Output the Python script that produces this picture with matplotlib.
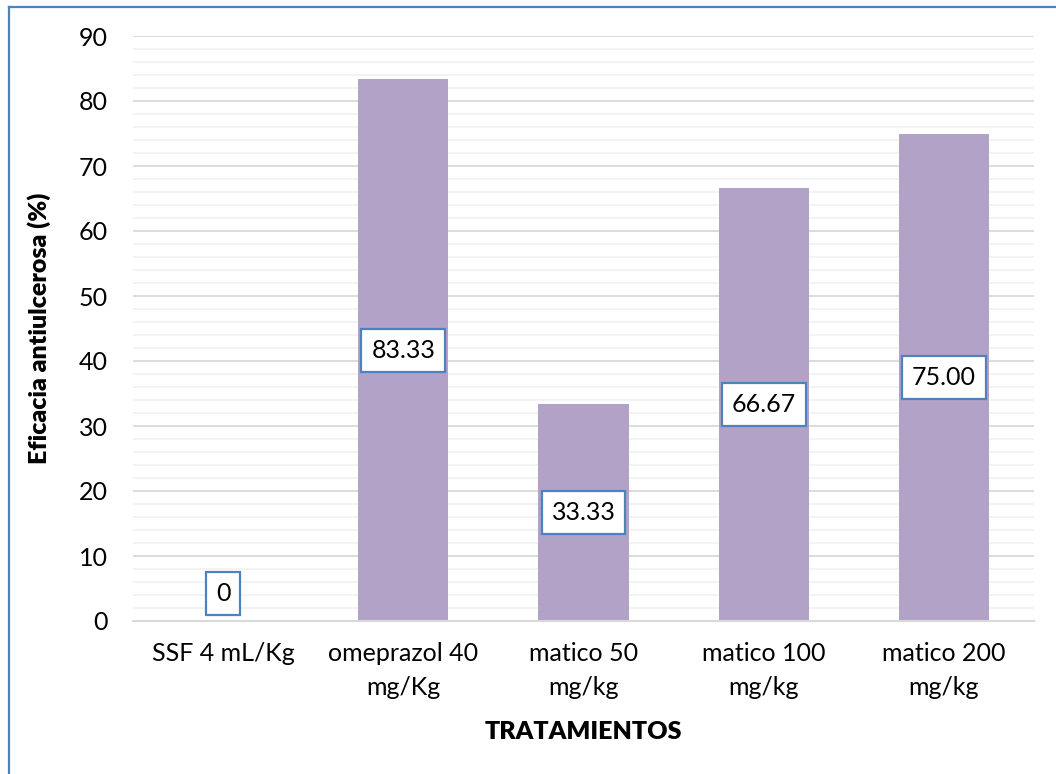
import matplotlib
matplotlib.use("Agg")
import matplotlib.pyplot as plt
from matplotlib.lines import Line2D
from matplotlib.ticker import MultipleLocator

categories = ["SSF 4 mL/Kg", "omeprazol 40\nmg/Kg", "matico 50\nmg/kg", "matico 100\nmg/kg", "matico 200\nmg/kg"]
values = [0, 83.33, 33.33, 66.67, 75.00]
labels = ["0", "83.33", "33.33", "66.67", "75.00"]

plt.rcParams['font.family'] = ['Lato', 'DejaVu Sans']

fig = plt.figure(figsize=(10.56, 7.74), dpi=100)
ax = fig.add_axes([133/1056, 1-621/774, (1034-133)/1056, (621-36)/774])

x = list(range(len(categories)))
bar_color = "#b3a2c7"
ax.bar(x, values, width=0.5, color=bar_color, zorder=3)

ax.set_xlim(-0.5, len(categories) - 0.5)
ax.set_ylim(0, 90)
ax.yaxis.set_major_locator(MultipleLocator(10))
ax.yaxis.set_minor_locator(MultipleLocator(2))
ax.grid(axis='y', which='minor', color='#f2f2f2', linewidth=1.3, zorder=0)
ax.grid(axis='y', which='major', color='#d9d9d9', linewidth=1.3, zorder=1)
ax.set_axisbelow(True)

for s in ['left', 'right', 'top']:
    ax.spines[s].set_visible(False)
ax.spines['bottom'].set_color('#d9d9d9')
ax.spines['bottom'].set_linewidth(1.5)
ax.spines['bottom'].set_zorder(4)

ax.set_xticks(x)
ax.set_xticklabels(categories, fontsize=18, linespacing=1.6)
ax.tick_params(axis='x', length=0, pad=15)
ax.tick_params(axis='y', which='both', length=0, pad=18, labelsize=18)

ax.set_xlabel("TRATAMIENTOS", fontsize=18, fontweight='heavy', labelpad=16)
ax.set_ylabel("Eficacia antiulcerosa (%)", fontsize=18, fontweight='heavy', labelpad=20)

for xi, v, lab in zip(x, values, labels):
    if v > 0:
        ax.annotate(lab, (xi, v / 2), ha='center', va='center', fontsize=18, zorder=5,
                    bbox=dict(boxstyle='square,pad=0.4', fc='white', ec='#4f81bd', lw=1.6))
    else:
        ax.annotate(lab, (xi, v), xytext=(0, 20), textcoords='offset points',
                    ha='center', va='center', fontsize=18, zorder=5,
                    bbox=dict(boxstyle='square,pad=0.4', fc='white', ec='#4f81bd', lw=1.6))

# chart border (left and top visible)
fig.add_artist(Line2D([8.5/1056, 8.5/1056], [0, 1-7/774], transform=fig.transFigure, color='#4f81bd', lw=1.6))
fig.add_artist(Line2D([8.5/1056, 1], [1-7/774, 1-7/774], transform=fig.transFigure, color='#4f81bd', lw=1.6))

fig.savefig("out.png", dpi=100)
